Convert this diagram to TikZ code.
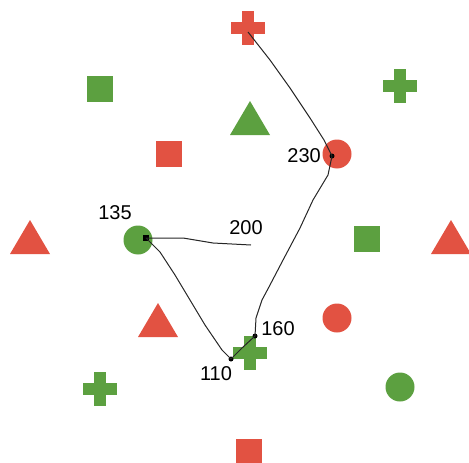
\documentclass[tikz,border=0pt]{standalone}
\usepackage{fontspec}
\setmainfont{Liberation Sans}
\definecolor{shred}{RGB}{226,82,66}
\definecolor{shgreen}{RGB}{92,160,64}
\tikzset{
  sq/.style={fill=#1, minimum size=26pt, inner sep=0pt},
  disc/.style={circle, fill=#1, minimum size=29pt, inner sep=0pt},
  lbl/.style={font=\fontsize{20}{20}\selectfont, inner sep=0pt},
  trail/.style={draw=black!85, line width=1pt, line join=round},
  ptdot/.style={circle, fill=black, inner sep=0pt, minimum size=5pt},
  ptsq/.style={rectangle, fill=black, inner sep=0pt, minimum size=5.5pt},
  pics/plus/.style={code={\fill[#1] (-17,-6) rectangle (17,6); \fill[#1] (-6,-17) rectangle (6,17);}},
  pics/tri/.style={code={\fill[#1] (-20,17) -- (20,17) -- (0,-17) -- cycle;}}
}
\begin{document}
\begin{tikzpicture}[x=1pt,y=-1pt]
\useasboundingbox (0,0) rectangle (469,463);
% shapes
\pic (crossTop) at (248,28) {plus=shred};
\node[sq=shgreen] (sqGreenTL) at (100,89) {};
\pic (crossRight) at (400,86) {plus=shgreen};
\pic (triGreen) at (250,118) {tri=shgreen};
\node[sq=shred] (sqRed) at (169,154) {};
\node[disc=shred] (circRed) at (337,154) {};
\pic (triRedL) at (30,237) {tri=shred};
\node[disc=shgreen] (circGreen) at (138,240) {};
\node[sq=shgreen] (sqGreenR) at (367,239) {};
\pic (triRedR) at (451,237) {tri=shred};
\pic (triRedM) at (158,320) {tri=shred};
\node[disc=shred] (circRedL) at (337,318) {};
\pic (crossMid) at (250,353) {plus=shgreen};
\pic (crossLow) at (100,389) {plus=shgreen};
\node[disc=shgreen] (circGreenL) at (400,387) {};
\node[sq=shred] (sqRedB) at (249,452) {};
% trail points
\coordinate (pStart) at (248,32);
\coordinate (p200) at (251,245);
\node[ptdot] (p230) at (332,156) {};
\node[ptdot] (p160) at (255,336) {};
\node[ptdot] (p110) at (231,359) {};
\node[ptsq] (p135) at (146,238) {};
% trail
\draw[trail] (pStart) -- (270,60) -- (290,88) -- (310,118) -- (324,140) -- (p230.center)
  -- (328,175) -- (313,200) -- (300,228) -- (282,262) -- (270,285) -- (262,300) -- (256,318) -- (p160.center)
  -- (242,348) -- (p110.center) -- (222,350) -- (205,325) -- (190,300) -- (175,275) -- (160,252) -- (p135.center)
  -- (183,238) -- (213,243) -- (p200);
% labels
\node[lbl, anchor=east] (l230) at (321,156) {230};
\node[lbl] (l135) at (115,213) {135};
\node[lbl] (l200) at (246,228) {200};
\node[lbl] (l160) at (278,329) {160};
\node[lbl] (l110) at (216,374) {110};
\end{tikzpicture}
\end{document}
